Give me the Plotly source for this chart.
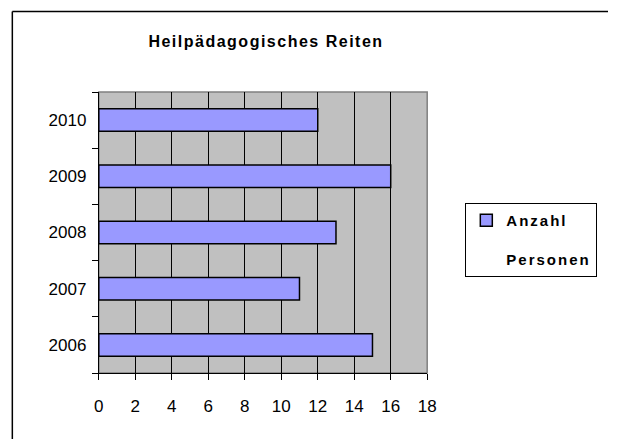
import plotly.graph_objects as go

years = ["2006", "2007", "2008", "2009", "2010"]
persons = [15, 11, 13, 16, 12]
x_ticks = [0, 2, 4, 6, 8, 10, 12, 14, 16, 18]
title_text = "Heilpädagogisches Reiten"
series_lines = ["Anzahl", "Personen"]

W, H = 617, 439
FONT = "Liberation Sans, Arial, sans-serif"

legend_name = "<br><br>".join(
    '<span style="letter-spacing:2px">' + s + "</span>" for s in series_lines)

fig = go.Figure()
fig.add_trace(go.Bar(
    y=years, x=persons, orientation="h", name=legend_name,
    marker=dict(color="#9999FF", line=dict(color="black", width=1.5)),
    width=0.4, showlegend=True,
))

x0p, x1p = 96 / W, 432 / W
ytop, ybot = 1 - 92 / H, 1 - 373 / H
bx, by = 7.5 / W, 1 - 11.5 / H

fig.update_layout(
    width=W, height=H,
    margin=dict(l=0, r=0, t=0, b=0),
    paper_bgcolor="white",
    plot_bgcolor="#C0C0C0",
    font=dict(family=FONT, color="black"),
    title=dict(text='<b><span style="letter-spacing:1.5px">' + title_text + "</span></b>",
               x=266 / W, xanchor="center",
               y=1 - 41 / H, yanchor="middle", font=dict(size=16, family=FONT)),
    xaxis=dict(domain=[x0p, x1p], range=[0, 18], tickvals=x_ticks,
               showgrid=True, gridcolor="black", gridwidth=1,
               showline=True, linecolor="black", linewidth=1,
               ticks="outside", ticklen=6, tickcolor="black",
               tickfont=dict(size=17, family=FONT), ticklabelstandoff=12,
               zeroline=False, fixedrange=True),
    yaxis=dict(domain=[ybot, ytop], categoryorder="array", categoryarray=years,
               range=[-0.5, 4.5],
               showgrid=False, showline=True, linecolor="black", linewidth=1,
               ticks="outside", ticklen=6, tickcolor="black", tickson="boundaries",
               tickfont=dict(size=17, family=FONT), ticklabelstandoff=8,
               fixedrange=True),
    legend=dict(x=471 / W, y=1 - 203 / H, xanchor="left", yanchor="top",
                bordercolor="black", borderwidth=1, bgcolor="white",
                font=dict(size=15, family=FONT, weight="bold"),
                itemwidth=30, valign="top", tracegroupgap=0),
    shapes=[
        dict(type="rect", xref="paper", yref="paper",
             x0=x0p, x1=x1p, y0=ybot, y1=ytop,
             line=dict(color="#808080", width=1.5), layer="below"),
        dict(type="line", xref="paper", yref="paper",
             x0=bx, x1=bx, y0=0, y1=by,
             line=dict(color="black", width=1.5)),
        dict(type="line", xref="paper", yref="paper",
             x0=bx, x1=1, y0=by, y1=by,
             line=dict(color="black", width=1.5)),
    ],
)

fig.write_html(
    "out.html",
    config={"displayModeBar": False},
    post_script="document.body.style.margin='0';document.body.style.overflow='hidden';",
)
